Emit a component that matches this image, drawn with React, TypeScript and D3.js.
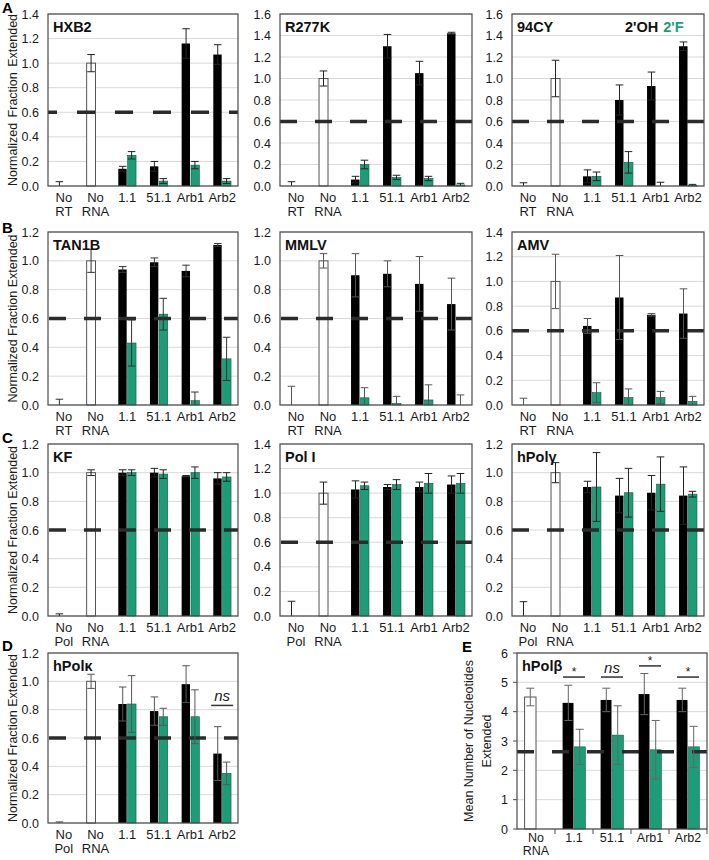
import React from 'react';
import * as d3 from 'd3';

const FONT = "'Liberation Sans', Arial, Helvetica, sans-serif";
const GREEN = '#1b9e77';
const TXT = '#1a1a1a';

// ---------- categories & ticks ----------
const catsRT = ['No RT', 'No RNA', '1.1', '51.1', 'Arb1', 'Arb2'];
const catsPol = ['No Pol', 'No RNA', '1.1', '51.1', 'Arb1', 'Arb2'];
const catsE = ['No RNA', '1.1', '51.1', 'Arb1', 'Arb2'];
const ticks12 = [0, 0.2, 0.4, 0.6, 0.8, 1.0, 1.2];
const ticks14 = [0, 0.2, 0.4, 0.6, 0.8, 1.0, 1.2, 1.4];
const ticks16 = [0, 0.2, 0.4, 0.6, 0.8, 1.0, 1.2, 1.4, 1.6];
const ticksE = [0, 1, 2, 3, 4, 5, 6];

// ---------- data (control cats, then 2'OH black / 2'F green) ----------
const hxb2Ctrl = [0, 1.0];
const hxb2CtrlErr = [0.035, 0.07];
const hxb2Black = [0.14, 0.16, 1.16, 1.07];
const hxb2BlackErr = [0.02, 0.04, 0.12, 0.08];
const hxb2Green = [0.25, 0.04, 0.17, 0.04];
const hxb2GreenErr = [0.03, 0.02, 0.03, 0.02];

const r277kCtrl = [0, 1.0];
const r277kCtrlErr = [0.04, 0.07];
const r277kBlack = [0.06, 1.3, 1.05, 1.42];
const r277kBlackErr = [0.03, 0.11, 0.11, 0.01];
const r277kGreen = [0.2, 0.08, 0.07, 0.01];
const r277kGreenErr = [0.04, 0.02, 0.02, 0.015];

const cy94Ctrl = [0, 1.0];
const cy94CtrlErr = [0.03, 0.17];
const cy94Black = [0.09, 0.8, 0.93, 1.3];
const cy94BlackErr = [0.06, 0.14, 0.13, 0.04];
const cy94Green = [0.09, 0.22, 0.0, 0.005];
const cy94GreenErr = [0.04, 0.1, 0.035, 0.01];

const tan1bCtrl = [0, 1.0];
const tan1bCtrlErr = [0.04, 0.08];
const tan1bBlack = [0.94, 0.99, 0.93, 1.11];
const tan1bBlackErr = [0.02, 0.03, 0.04, 0.01];
const tan1bGreen = [0.43, 0.63, 0.03, 0.32];
const tan1bGreenErr = [0.16, 0.11, 0.06, 0.15];

const mmlvCtrl = [0, 1.0];
const mmlvCtrlErr = [0.13, 0.05];
const mmlvBlack = [0.9, 0.91, 0.84, 0.7];
const mmlvBlackErr = [0.15, 0.09, 0.19, 0.18];
const mmlvGreen = [0.05, 0.01, 0.035, 0.0];
const mmlvGreenErr = [0.07, 0.05, 0.105, 0.07];

const amvCtrl = [0, 1.0];
const amvCtrlErr = [0.055, 0.22];
const amvBlack = [0.64, 0.87, 0.73, 0.74];
const amvBlackErr = [0.06, 0.34, 0.01, 0.2];
const amvGreen = [0.1, 0.06, 0.06, 0.03];
const amvGreenErr = [0.08, 0.07, 0.05, 0.04];

const kfCtrl = [0, 1.0];
const kfCtrlErr = [0.015, 0.02];
const kfBlack = [1.0, 1.0, 0.975, 0.96];
const kfBlackErr = [0.02, 0.03, 0.005, 0.04];
const kfGreen = [1.0, 0.99, 1.0, 0.97];
const kfGreenErr = [0.02, 0.03, 0.04, 0.03];

const pol1Ctrl = [0, 1.0];
const pol1CtrlErr = [0.12, 0.09];
const pol1Black = [1.03, 1.05, 1.05, 1.07];
const pol1BlackErr = [0.07, 0.02, 0.04, 0.07];
const pol1Green = [1.06, 1.07, 1.08, 1.08];
const pol1GreenErr = [0.03, 0.04, 0.08, 0.08];

const polgCtrl = [0, 1.0];
const polgCtrlErr = [0.1, 0.07];
const polgBlack = [0.9, 0.84, 0.86, 0.84];
const polgBlackErr = [0.04, 0.12, 0.12, 0.2];
const polgGreen = [0.9, 0.86, 0.92, 0.85];
const polgGreenErr = [0.24, 0.17, 0.19, 0.02];

const polkCtrl = [0, 1.0];
const polkCtrlErr = [0.008, 0.05];
const polkBlack = [0.84, 0.79, 0.98, 0.49];
const polkBlackErr = [0.12, 0.1, 0.13, 0.19];
const polkGreen = [0.84, 0.75, 0.75, 0.35];
const polkGreenErr = [0.2, 0.06, 0.19, 0.08];

const polbCtrl = [4.5];
const polbCtrlErr = [0.3];
const polbBlack = [4.3, 4.4, 4.6, 4.4];
const polbBlackErr = [0.6, 0.4, 0.7, 0.4];
const polbGreen = [2.8, 3.2, 2.7, 2.8];
const polbGreenErr = [0.6, 1.0, 1.0, 0.7];

const thresholdNorm = 0.6;
const thresholdPolb = 2.63;

const polkSigCats = ['Arb2'];
const polkSigText = ['ns'];
const polkSigY = [0.83];
const polbSigCats = ['1.1', '51.1', 'Arb1', 'Arb2'];
const polbSigText = ['*', 'ns', '*', '*'];
const polbSigY = [5.18, 5.18, 5.56, 5.18];

// ---------- layout ----------
const rows = [
  { top: 14, bottom: 186 },
  { top: 232, bottom: 405 },
  { top: 444, bottom: 616 },
  { top: 653, bottom: 823 },
];
const cols = [
  { left: 48, right: 238 },
  { left: 280, right: 472 },
  { left: 512, right: 704 },
];

type Spec = {
  title: string; cats: string[];
  ctrl: number[]; ctrlErr: number[];
  black: number[]; blackErr: number[];
  green: number[]; greenErr: number[];
  ticks: number[]; fmt: (v: number) => string;
  x0: number; x1: number; y0: number; y1: number;
  thr: number; dashLen: number; dashPeriod: number; dashOffset: number;
  errColor: string; barFrac: number;
  sigCats?: string[]; sigText?: string[]; sigY?: number[];
  isE?: boolean; legend?: boolean;
};

const f1 = (v: number) => v.toFixed(1);
const f0 = (v: number) => v.toFixed(0);

const mk = (title: string, cats: string[], ctrl: number[], ctrlErr: number[], black: number[], blackErr: number[],
  green: number[], greenErr: number[], ticks: number[], r: number, c: number, extra: Partial<Spec> = {}): Spec => ({
  title, cats, ctrl, ctrlErr, black, blackErr, green, greenErr, ticks, fmt: f1,
  x0: cols[c].left, x1: cols[c].right, y0: rows[r].top, y1: rows[r].bottom,
  thr: thresholdNorm, dashLen: 17, dashPeriod: 35, dashOffset: -1, errColor: '#222', barFrac: 0.28,
  ...extra,
});

const specs: Spec[] = [
  mk('HXB2', catsRT, hxb2Ctrl, hxb2CtrlErr, hxb2Black, hxb2BlackErr, hxb2Green, hxb2GreenErr, ticks14, 0, 0, { dashLen: 18, dashPeriod: 38, dashOffset: 9 }),
  mk('R277K', catsRT, r277kCtrl, r277kCtrlErr, r277kBlack, r277kBlackErr, r277kGreen, r277kGreenErr, ticks16, 0, 1, { dashOffset: 0 }),
  mk('94CY', catsRT, cy94Ctrl, cy94CtrlErr, cy94Black, cy94BlackErr, cy94Green, cy94GreenErr, ticks16, 0, 2, { dashOffset: 0, legend: true }),
  mk('TAN1B', catsRT, tan1bCtrl, tan1bCtrlErr, tan1bBlack, tan1bBlackErr, tan1bGreen, tan1bGreenErr, ticks12, 1, 0, { errColor: '#333' }),
  mk('MMLV', catsRT, mmlvCtrl, mmlvCtrlErr, mmlvBlack, mmlvBlackErr, mmlvGreen, mmlvGreenErr, ticks12, 1, 1, { errColor: '#555' }),
  mk('AMV', catsRT, amvCtrl, amvCtrlErr, amvBlack, amvBlackErr, amvGreen, amvGreenErr, ticks14, 1, 2, { errColor: '#555', dashOffset: 0 }),
  mk('KF', catsPol, kfCtrl, kfCtrlErr, kfBlack, kfBlackErr, kfGreen, kfGreenErr, ticks12, 2, 0),
  mk('Pol I', catsPol, pol1Ctrl, pol1CtrlErr, pol1Black, pol1BlackErr, pol1Green, pol1GreenErr, ticks14, 2, 1),
  mk('hPolγ', catsPol, polgCtrl, polgCtrlErr, polgBlack, polgBlackErr, polgGreen, polgGreenErr, ticks12, 2, 2, { dashOffset: 0 }),
  mk('hPolκ', catsPol, polkCtrl, polkCtrlErr, polkBlack, polkBlackErr, polkGreen, polkGreenErr, ticks12, 3, 0,
    { errColor: '#555', sigCats: polkSigCats, sigText: polkSigText, sigY: polkSigY }),
  {
    title: 'hPolβ', cats: catsE, ctrl: polbCtrl, ctrlErr: polbCtrlErr, black: polbBlack, blackErr: polbBlackErr,
    green: polbGreen, greenErr: polbGreenErr, ticks: ticksE, fmt: f0,
    x0: 517, x1: 707, y0: 653, y1: 829, thr: thresholdPolb, dashLen: 17, dashPeriod: 35, dashOffset: 0,
    errColor: '#666', barFrac: 0.3, sigCats: polbSigCats, sigText: polbSigText, sigY: polbSigY, isE: true,
  },
];

function Panel({ p }: { p: Spec }) {
  const w = p.x1 - p.x0;
  const h = p.y1 - p.y0;
  const yMax = p.ticks[p.ticks.length - 1];
  const y = d3.scaleLinear().domain([0, yMax]).range([h, 0]);
  const x = d3.scaleBand<string>().domain(p.cats).range([0, w]).padding(0);
  const band = x.bandwidth();
  const bw = band * p.barFrac;
  const cap = Math.min(8, bw * 0.85);
  const nc = p.ctrl.length;
  const cx = (c: string) => (x(c) as number) + band / 2;

  const errBar = (xc: number, v: number, e: number, key: string) => {
    const lo = Math.max(0, v - e);
    const hi = v + e;
    return (
      <g key={key} stroke={p.errColor} strokeWidth={1}>
        <line x1={xc} x2={xc} y1={y(lo)} y2={y(hi)} />
        <line x1={xc - cap / 2} x2={xc + cap / 2} y1={y(hi)} y2={y(hi)} />
        {v - e > 0 && <line x1={xc - cap / 2} x2={xc + cap / 2} y1={y(lo)} y2={y(lo)} />}
      </g>
    );
  };

  const bars: React.ReactNode[] = [];
  const errs: React.ReactNode[] = [];
  p.cats.forEach((c, i) => {
    const bx = cx(c) - bw; // black slot left
    if (i < nc) {
      const v = p.ctrl[i];
      if (v > 0) {
        bars.push(<rect key={'w' + i} x={bx} y={y(v)} width={bw} height={y(0) - y(v)} fill="#fff" stroke="#555" strokeWidth={1} />);
      }
      errs.push(errBar(bx + bw / 2, v, p.ctrlErr[i], 'ce' + i));
    } else {
      const j = i - nc;
      const vb = p.black[j];
      const vg = p.green[j];
      bars.push(<rect key={'b' + i} x={bx} y={y(vb)} width={bw - 0.5} height={y(0) - y(vb)} fill="#000" />);
      if (vg > 0) {
        bars.push(<rect key={'g' + i} x={cx(c) + 0.5} y={y(vg)} width={bw - 0.5} height={y(0) - y(vg)} fill={GREEN} stroke="#0e5b44" strokeWidth={0.6} />);
      }
      errs.push(errBar(bx + bw / 2, vb, p.blackErr[j], 'be' + i));
      errs.push(errBar(cx(c) + bw / 2, vg, p.greenErr[j], 'ge' + i));
    }
  });

  return (
    <g transform={`translate(${p.x0},${p.y0})`} fontFamily={FONT}>
      {p.ticks.map((t) => (
        <line key={'gl' + t} x1={0} x2={w} y1={y(t)} y2={y(t)} stroke="#d9d9d9" strokeWidth={1} />
      ))}
      {bars}
      <line x1={0} x2={w} y1={y(p.thr)} y2={y(p.thr)} stroke="#2b2b2b" strokeWidth={3.5}
        strokeDasharray={`${p.dashLen} ${p.dashPeriod - p.dashLen}`} strokeDashoffset={p.dashOffset} />
      {errs}
      <rect x={0} y={0} width={w} height={h} fill="none" stroke="#4a4a4a" strokeWidth={1.2} />
      {p.isE && p.ticks.map((t) => (
        <line key={'yt' + t} x1={-4} x2={0} y1={y(t)} y2={y(t)} stroke="#4a4a4a" strokeWidth={1} />
      ))}
      {p.isE && p.cats.map((c, i) => (
        <line key={'xt' + i} x1={(x(c) as number) + band} x2={(x(c) as number) + band} y1={h} y2={h + 5} stroke="#4a4a4a" strokeWidth={1} />
      ))}
      {p.ticks.map((t) => (
        <text key={'tl' + t} x={-9} y={y(t)} dy="0.36em" textAnchor="end" fontSize={12.5} fill={TXT}>{p.fmt(t)}</text>
      ))}
      {p.cats.map((c) => {
        const parts = c.startsWith('No ') ? ['No', c.slice(3)] : [c];
        const b1 = p.isE ? 13 : 15.5;
        const lh = p.isE ? 13 : 14;
        return (
          <text key={'cl' + c} x={cx(c)} y={h + b1} textAnchor="middle" fontSize={p.isE ? 12.5 : 13} fill={TXT}>
            {parts.map((s, k) => (
              <tspan key={k} x={cx(c)} dy={k === 0 ? 0 : lh}>{s}</tspan>
            ))}
          </text>
        );
      })}
      <text x={5} y={18} fontSize={14.5} fontWeight="bold" fill="#111">{p.title}</text>
      {p.legend && (
        <text x={w - 79} y={18} fontSize={14.5} fontWeight="bold">
          <tspan fill="#111">2'OH</tspan>
          <tspan fill={GREEN} dx={5}>2'F</tspan>
        </text>
      )}
      {p.sigCats && p.sigCats.map((c, k) => {
        const yy = y(p.sigY![k]);
        const isStar = p.sigText![k] === '*';
        return (
          <g key={'sig' + k}>
            <line x1={cx(c) - 11} x2={cx(c) + 11} y1={yy} y2={yy} stroke="#333" strokeWidth={1.5} />
            <text x={cx(c)} y={isStar ? yy - 1 : yy - 4} textAnchor="middle" fontSize={isStar ? 12 : 15}
              fontStyle={isStar ? 'normal' : 'italic'} fill={TXT}>{p.sigText![k]}</text>
          </g>
        );
      })}
    </g>
  );
}

export default function App() {
  const yLabelRows = rows.map((r) => (r.top + r.bottom) / 2);
  return (
    <svg width={709} height={860} style={{ position: 'absolute', left: 0, top: 0, background: '#fff' }} fontFamily={FONT}>
      <rect x={0} y={0} width={709} height={860} fill="#fff" />
      {specs.map((p) => <Panel key={p.title} p={p} />)}
      {yLabelRows.map((cy, i) => (
        <text key={'yl' + i} transform={`translate(13,${cy}) rotate(-90)`} textAnchor="middle" dy="0.35em"
          fontSize={12.5} fill={TXT} wordSpacing={i === 0 ? 2 : 0}>Normalized Fraction Extended</text>
      ))}
      <text transform={`translate(469,${741}) rotate(-90)`} textAnchor="middle" dy="0.35em" fontSize={12.5} fill={TXT}>Mean Number of Nucleotides</text>
      <text transform={`translate(487,${741}) rotate(-90)`} textAnchor="middle" dy="0.35em" fontSize={12.5} fill={TXT}>Extended</text>
      {[['A', 2, 13], ['B', 2, 233], ['C', 2, 443], ['D', 2, 651], ['E', 462, 652]].map(([t, xx, yy]) => (
        <text key={t as string} x={xx as number} y={yy as number} fontSize={15} fontWeight="bold" fill="#000">{t}</text>
      ))}
    </svg>
  );
}
